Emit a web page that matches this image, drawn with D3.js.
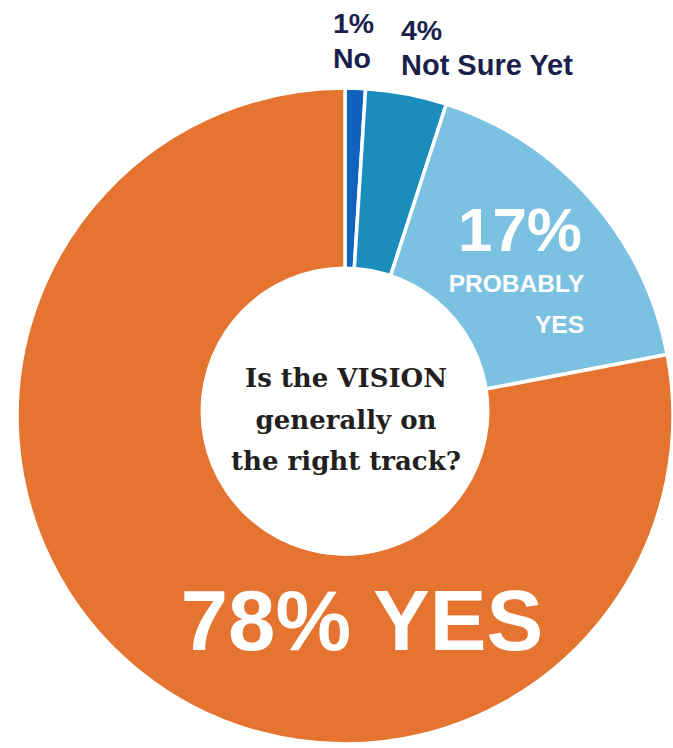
<!DOCTYPE html>
<html><head><meta charset="utf-8">
<script src="https://cdn.jsdelivr.net/npm/d3@7"></script>
<style>html,body{margin:0;padding:0;background:#fff;}svg{display:block;}</style>
</head><body>
<svg id="c" width="673" height="748"></svg>
<script>
const categories = ["No", "Not Sure Yet", "Probably Yes", "Yes"];
const values = [1, 4, 17, 78];
const colors = ["#1062BE", "#1A8DBD", "#7BC1E2", "#E4742F"];
const questionLines = ["Is the VISION", "generally on", "the right track?"];

const svg = d3.select("#c");
const cx = 345, cy = 416, rOut = 328, rIn = 138;
const g = svg.append("g").attr("transform", `translate(${cx},${cy})`);
const pie = d3.pie().sort(null).value(d => d)(values);
const arc = d3.arc().innerRadius(rIn).outerRadius(rOut);
g.selectAll("path").data(pie).join("path")
  .attr("d", arc)
  .attr("fill", (d, i) => colors[i])
  .attr("stroke", "#fff").attr("stroke-width", 3.5).attr("stroke-linejoin", "miter");
// centre hole (slightly raised, as in the original)
svg.append("circle").attr("cx", 345).attr("cy", 411).attr("r", 144.5).attr("fill", "#fff");

const sans = "'Liberation Sans', Arial, sans-serif";
const navy = "#1B1F4B";
function txt(x, y, s, size, fill, anchor, family) {
  svg.append("text").attr("x", x).attr("y", y).text(s)
    .attr("font-family", family || sans).attr("font-weight", "bold")
    .attr("font-size", size).attr("fill", fill).attr("text-anchor", anchor || "start");
}
// top labels
txt(333, 33, values[0] + "%", 28.5, navy);
txt(333, 68, categories[0], 28.5, navy);
txt(401, 40, values[1] + "%", 28.5, navy);
txt(401, 75, categories[1], 29, navy);
// probably yes
txt(582, 251, values[2] + "%", 62, "#fff", "end");
txt(584, 292, "PROBABLY", 24.5, "#fff", "end");
txt(584, 333, "YES", 24.5, "#fff", "end");
// yes
txt(362, 650, values[3] + "% " + categories[3].toUpperCase(), 85, "#fff", "middle");
// center question
questionLines.forEach((l, i) => {
  txt(346, 387 + i * 41.5, l, 26, "#231F20", "middle", "'DejaVu Serif', Georgia, serif");
});
</script>
</body></html>
